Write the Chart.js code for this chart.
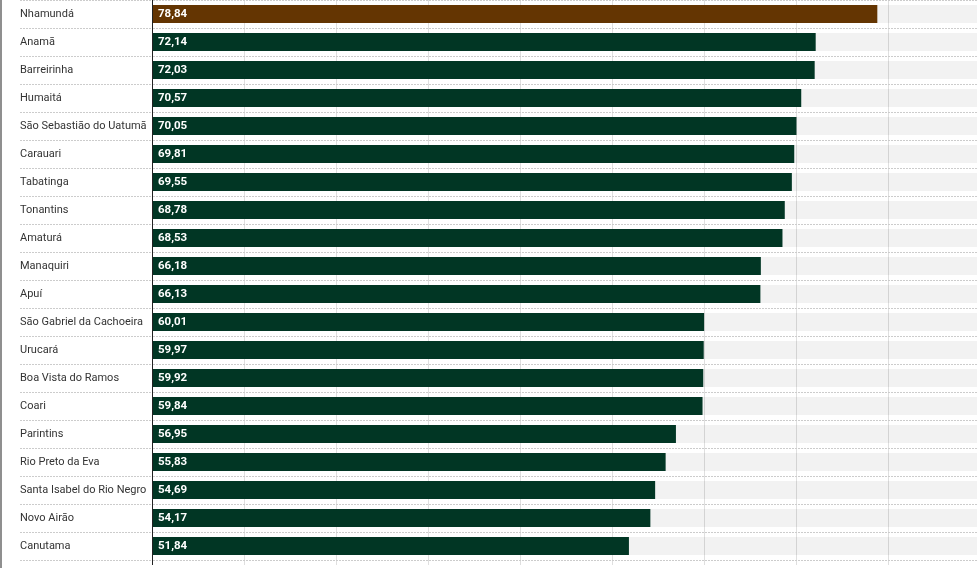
<!DOCTYPE html>
<html lang="pt-BR">
<head>
<meta charset="utf-8">
<title>Municípios</title>
<script src="https://cdn.jsdelivr.net/npm/chart.js@4.4.1/dist/chart.umd.min.js"></script>
<style>
    html, body {
        margin: 0;
        padding: 0;
        background: #ffffff;
        overflow: hidden;
    }
    #moldura {
        position: absolute;
        left: 0;
        top: 0;
        border-left: 2px solid #8f8f8f;
    }
    #graficoMunicipios {
        display: block;
    }
</style>
</head>
<body>
<div id="moldura">
    <canvas id="graficoMunicipios" width="978" height="568"></canvas>
</div>
<script>
const municipios = [
    'Nhamundá', 'Anamã', 'Barreirinha', 'Humaitá', 'São Sebastião do Uatumã',
    'Carauari', 'Tabatinga', 'Tonantins', 'Amaturá', 'Manaquiri',
    'Apuí', 'São Gabriel da Cachoeira', 'Urucará', 'Boa Vista do Ramos', 'Coari',
    'Parintins', 'Rio Preto da Eva', 'Santa Isabel do Rio Negro', 'Novo Airão', 'Canutama'
];

const indices = [
    78.84, 72.14, 72.03, 70.57, 70.05,
    69.81, 69.55, 68.78, 68.53, 66.18,
    66.13, 60.01, 59.97, 59.92, 59.84,
    56.95, 55.83, 54.69, 54.17, 51.84
];

const escalaMin = 0;
const escalaMax = 90;
const passo = 10;

const cores = {
    destaque: '#643502',
    verdeEscuro: '#013624',
    fundoBarra: 'rgba(0, 0, 0, 0.05)',
    texto: '#333333',
    eixo: '#222222',
    grade: '#dfdfdf',
    pontilhado: '#cccccc'
};

// trilho cinza atrás de cada barra
const trilho = municipios.map(() => escalaMax);

const rotulosValores = {
    id: 'rotulosValores',
    afterDatasetsDraw(chart) {
        const ctx = chart.ctx;
        const meta = chart.getDatasetMeta(0);
        const x0 = chart.scales.x.getPixelForValue(escalaMin);
        ctx.save();
        ctx.fillStyle = '#ffffff';
        ctx.font = "bold 11.5px Roboto, 'Noto Sans', sans-serif";
        ctx.textBaseline = 'middle';
        ctx.textAlign = 'left';
        meta.data.forEach((barra, i) => {
            ctx.fillText(indices[i].toFixed(2).replace('.', ','), x0 + 6, barra.y + 0.5);
        });
        ctx.restore();
    }
};

const ctxMunicipios = document.getElementById('graficoMunicipios');
new Chart(ctxMunicipios, {
    type: 'bar',
    data: {
        labels: municipios,
        datasets: [{
            label: 'Índice',
            data: indices,
            backgroundColor: indices.map((v, i) => i === 0 ? cores.destaque : cores.verdeEscuro),
            borderWidth: 0,
            grouped: false,
            order: 1,
            barPercentage: 0.643,
            categoryPercentage: 1
        }, {
            label: 'Fundo',
            data: trilho,
            backgroundColor: cores.fundoBarra,
            borderWidth: 0,
            grouped: false,
            order: 2,
            barPercentage: 0.643,
            categoryPercentage: 1
        }]
    },
    options: {
        responsive: false,
        animation: false,
        indexAxis: 'y',
        layout: {
            padding: {
                top: 0,
                bottom: 3,
                left: 18,
                right: 0
            }
        },
        plugins: {
            legend: { display: false },
            tooltip: { enabled: false }
        },
        scales: {
            x: {
                min: escalaMin,
                max: escalaMax,
                ticks: {
                    display: false,
                    stepSize: passo
                },
                grid: {
                    color: (c) => c.tick && c.tick.value === escalaMin ? cores.eixo : cores.grade,
                    tickColor: (c) => c.tick && c.tick.value === escalaMin ? cores.eixo : cores.grade,
                    lineWidth: 1,
                    drawTicks: true,
                    tickLength: 5
                },
                border: { display: false }
            },
            y: {
                afterFit(scale) {
                    scale.width = 132;
                    scale.paddingTop = 0;
                    scale.paddingBottom = 0;
                },
                ticks: {
                    crossAlign: 'far',
                    padding: 0,
                    color: cores.texto,
                    font: {
                        family: "Roboto, 'Noto Sans', sans-serif",
                        size: 11
                    }
                },
                grid: {
                    color: cores.pontilhado,
                    tickColor: cores.pontilhado,
                    tickBorderDash: [2, 1],
                    tickLength: 132,
                    lineWidth: 1,
                    offset: true
                },
                border: {
                    display: true,
                    color: cores.eixo,
                    width: 1,
                    dash: [2, 1],
                    z: 1
                }
            }
        }
    },
    plugins: [rotulosValores]
});
</script>
</body>
</html>
